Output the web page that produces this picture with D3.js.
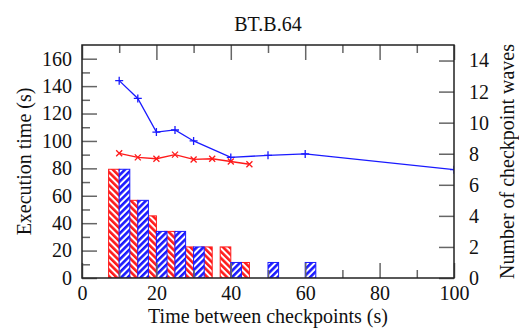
<!DOCTYPE html>
<html>
<head>
<meta charset="utf-8">
<script src="https://cdn.jsdelivr.net/npm/d3@7"></script>
<style>
  body { margin: 0; background: #fff; }
  svg text { font-family: "Liberation Serif", "DejaVu Serif", "Times New Roman", serif; fill: #111; }
</style>
</head>
<body>
<div id="canvas"></div>
<script>
"use strict"

/* data */
let redX = [10, 15, 20, 25, 30, 35, 40, 45];
let redTime = [91, 88, 87, 90, 86.5, 87, 85, 83];
let redWaves = [7, 5, 4, 3, 2, 2, 2, 1];

let blueX = [10, 15, 20, 25, 30, 40, 50, 60, 100];
let blueTime = [144, 131, 106.5, 108, 100, 88, 89.5, 90.5, 79];
let blueWaves = [7, 5, 3, 3, 2, 1, 1, 1, 0];

let xTicks = [0, 20, 40, 60, 80, 100];
let yTicks = [0, 20, 40, 60, 80, 100, 120, 140, 160];
let y2Ticks = [0, 2, 4, 6, 8, 10, 12, 14];

let title = "BT.B.64";
let xLabel = "Time between checkpoints (s)";
let yLabel = "Execution time (s)";
let y2Label = "Number of checkpoint waves";

let W = 519, H = 335;
let pLeft = 82, pRight = 454, pTop = 45, pBottom = 278;
let boxWidth = 2.85; // bar width in x units
let red = "#ff1a1a", blue = "#1a1aff";
let serif = "'Liberation Serif', 'DejaVu Serif', 'Times New Roman', serif";

let drawing = d3.select("#canvas")
    .append("svg")
    .attr("width", W)
    .attr("height", H);

let x = d3.scaleLinear().domain([0, 100]).range([pLeft, pRight]);
let y = d3.scaleLinear().domain([0, 170]).range([pBottom, pTop]);
let y2 = d3.scaleLinear().domain([0, 15]).range([pBottom, pTop]);

/* stripe patterns for the bars */
let defs = drawing.append("defs");
function stripes(id, color, angle) {
    let p = defs.append("pattern")
        .attr("id", id)
        .attr("patternUnits", "userSpaceOnUse")
        .attr("width", 4.6)
        .attr("height", 4.6)
        .attr("patternTransform", "rotate(" + angle + ")");
    p.append("rect").attr("width", 4.6).attr("height", 4.6).attr("fill", "#fff");
    p.append("rect").attr("width", 2.6).attr("height", 4.6).attr("fill", color);
}
stripes("redStripe", red, -45);
stripes("blueStripe", blue, 45);

drawing.append("clipPath").attr("id", "plotClip")
    .append("rect")
    .attr("x", pLeft).attr("y", pTop)
    .attr("width", pRight - pLeft).attr("height", pBottom - pTop);

let plot = drawing.append("g").attr("clip-path", "url(#plotClip)");

/* bars: number of waves (right axis) */
plot.selectAll(".redBar")
    .data(redX.map((d, i) => ({ x: d, v: redWaves[i] })))
    .join("rect")
    .attr("x", d => x(d.x - boxWidth))
    .attr("y", d => y2(d.v))
    .attr("width", d => x(d.x) - x(d.x - boxWidth))
    .attr("height", d => y2(0) - y2(d.v))
    .attr("fill", "url(#redStripe)")
    .attr("stroke", red)
    .attr("stroke-width", 1);

plot.selectAll(".blueBar")
    .data(blueX.map((d, i) => ({ x: d, v: blueWaves[i] })).filter(d => d.v > 0))
    .join("rect")
    .attr("x", d => x(d.x))
    .attr("y", d => y2(d.v))
    .attr("width", d => x(d.x + boxWidth) - x(d.x))
    .attr("height", d => y2(0) - y2(d.v))
    .attr("fill", "url(#blueStripe)")
    .attr("stroke", blue)
    .attr("stroke-width", 1);

/* lines: execution time (left axis) */
let line = d3.line().x(d => x(d[0])).y(d => y(d[1]));
let redPts = redX.map((d, i) => [d, redTime[i]]);
let bluePts = blueX.map((d, i) => [d, blueTime[i]]);

plot.append("path")
    .attr("d", line(bluePts))
    .attr("fill", "none")
    .attr("stroke", blue)
    .attr("stroke-width", 1.3);

plot.append("path")
    .attr("d", line(redPts))
    .attr("fill", "none")
    .attr("stroke", red)
    .attr("stroke-width", 1.3);

let s = 4;
plot.selectAll(".plus")
    .data(bluePts)
    .join("path")
    .attr("d", d => "M" + (x(d[0]) - s) + "," + y(d[1]) + "h" + (2 * s) +
        "M" + x(d[0]) + "," + (y(d[1]) - s) + "v" + (2 * s))
    .attr("stroke", blue)
    .attr("stroke-width", 1.3);

let c = 3;
plot.selectAll(".cross")
    .data(redPts)
    .join("path")
    .attr("d", d => "M" + (x(d[0]) - c) + "," + (y(d[1]) - c) + "l" + (2 * c) + "," + (2 * c) +
        "M" + (x(d[0]) - c) + "," + (y(d[1]) + c) + "l" + (2 * c) + "," + (-2 * c))
    .attr("stroke", red)
    .attr("stroke-width", 1.3);

/* axes, ticks pointing inward */
let tickColor = "#666";
function styleAxis(g) {
    g.attr("font-family", serif);
    g.select(".domain").remove();
    g.selectAll(".tick line").attr("stroke", tickColor).attr("stroke-width", 1.5);
    g.selectAll("text").attr("font-size", 20).attr("fill", "#111")
        .style("font-family", serif);
}

let minorX = d3.range(10, 100, 20);
let minorY = d3.range(10, 170, 20);

drawing.append("g").attr("transform", "translate(0," + pBottom + ")")
    .call(d3.axisBottom(x).tickValues(xTicks).tickSizeInner(-15).tickSizeOuter(0).tickPadding(8))
    .call(styleAxis);
drawing.append("g").attr("transform", "translate(0," + pBottom + ")")
    .call(d3.axisBottom(x).tickValues(minorX).tickSizeInner(-8).tickSizeOuter(0).tickFormat(""))
    .call(styleAxis);
drawing.append("g").attr("transform", "translate(0," + pTop + ")")
    .call(d3.axisTop(x).tickValues(xTicks).tickSizeInner(-15).tickSizeOuter(0).tickFormat(""))
    .call(styleAxis);
drawing.append("g").attr("transform", "translate(0," + pTop + ")")
    .call(d3.axisTop(x).tickValues(minorX).tickSizeInner(-8).tickSizeOuter(0).tickFormat(""))
    .call(styleAxis);

drawing.append("g").attr("transform", "translate(" + pLeft + ",0)")
    .call(d3.axisLeft(y).tickValues(yTicks).tickSizeInner(-15).tickSizeOuter(0).tickPadding(10))
    .call(styleAxis);
drawing.append("g").attr("transform", "translate(" + pLeft + ",0)")
    .call(d3.axisLeft(y).tickValues(minorY).tickSizeInner(-8).tickSizeOuter(0).tickFormat(""))
    .call(styleAxis);

drawing.append("g").attr("transform", "translate(" + pRight + ",0)")
    .call(d3.axisRight(y2).tickValues(y2Ticks).tickSizeInner(-15).tickSizeOuter(0).tickPadding(15))
    .call(styleAxis);

/* frame */
drawing.append("rect")
    .attr("x", pLeft).attr("y", pTop)
    .attr("width", pRight - pLeft).attr("height", pBottom - pTop)
    .attr("fill", "none")
    .attr("stroke", "#222")
    .attr("stroke-width", 1.5);

/* titles */
function label(sel) {
    return sel.attr("text-anchor", "middle")
        .attr("font-size", 20)
        .style("font-family", serif);
}

drawing.append("text")
    .attr("x", (pLeft + pRight) / 2).attr("y", 31)
    .call(label)
    .text(title);

drawing.append("text")
    .attr("x", (pLeft + pRight) / 2).attr("y", 323)
    .call(label)
    .text(xLabel);

drawing.append("text")
    .attr("transform", "translate(31," + (pTop + pBottom) / 2 + ") rotate(-90)")
    .call(label)
    .text(yLabel);

drawing.append("text")
    .attr("transform", "translate(514," + (pTop + pBottom) / 2 + ") rotate(-90)")
    .call(label)
    .text(y2Label);
</script>
</body>
</html>
